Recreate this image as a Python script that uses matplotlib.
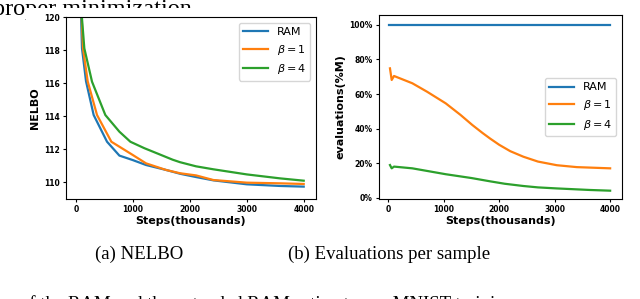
import matplotlib
matplotlib.use("Agg")
import matplotlib.pyplot as plt
from matplotlib.ticker import PercentFormatter
from matplotlib.patches import Rectangle

# ---- data ----
# (a) NELBO vs steps (thousands)
nelbo_ram_x = [70, 90, 105, 176, 310, 545, 762, 996, 1230, 1582, 1828, 2109, 2413, 3000, 3585, 4000]
nelbo_ram_y = [121.0, 119.9, 118.1, 116.1, 114.06, 112.44, 111.6, 111.33, 111.03, 110.73, 110.5, 110.3, 110.1, 109.86, 109.76, 109.72]

nelbo_b1_x = [80, 100, 123, 205, 369, 621, 762, 996, 1230, 1582, 1828, 2109, 2413, 3000, 3585, 4000]
nelbo_b1_y = [121.0, 119.9, 118.1, 116.1, 114.06, 112.44, 112.14, 111.64, 111.13, 110.73, 110.53, 110.4, 110.12, 109.96, 109.92, 109.88]

nelbo_b4_x = [90, 105, 146, 281, 515, 762, 955, 1200, 1450, 1699, 1828, 2109, 2413, 3000, 3585, 4000]
nelbo_b4_y = [121.0, 119.9, 118.1, 116.08, 114.06, 113.05, 112.44, 112.05, 111.7, 111.35, 111.2, 110.95, 110.77, 110.46, 110.22, 110.08]

# (b) evaluations per sample (fraction of M)
eval_ram_x = [10, 4000]
eval_ram_y = [1.0, 1.0]

eval_b1_x = [30, 61, 103, 433, 700, 1036, 1300, 1516, 1700, 1836, 2000, 2200, 2437, 2700, 3040, 3400, 4002]
eval_b1_y = [0.748, 0.681, 0.704, 0.662, 0.613, 0.546, 0.48, 0.421, 0.375, 0.343, 0.307, 0.27, 0.238, 0.21, 0.189, 0.178, 0.171]

eval_b4_x = [30, 61, 103, 433, 1036, 1500, 1836, 2100, 2437, 2700, 3040, 3641, 4002]
eval_b4_y = [0.19, 0.171, 0.181, 0.171, 0.137, 0.115, 0.096, 0.082, 0.069, 0.061, 0.055, 0.046, 0.042]

labels = ["RAM", r"$\beta=1$", r"$\beta=4$"]
colors = ["#1f77b4", "#ff7f0e", "#2ca02c"]

W, H = 640, 299
fig = plt.figure(figsize=(W / 100, H / 100), dpi=100)

SERIF = ["Liberation Serif", "DejaVu Serif"]

# clipped text of the surrounding page, partly hidden behind the chart image
fig.text(-7 / W, 1 - 15 / H, "proper minimization", family=SERIF, fontsize=17.5,
         ha="left", va="baseline", zorder=0)
cover = Rectangle((26 / W, 0), 1, 1 - 8 / H, transform=fig.transFigure,
                  facecolor="white", edgecolor="none", zorder=0.5)
fig.add_artist(cover)


def style(ax, xlabel, ylabel):
    ax.set_zorder(2)
    ax.set_xlabel(xlabel, fontsize=8, fontweight="bold", labelpad=1)
    ax.set_ylabel(ylabel, fontsize=8, fontweight="bold", labelpad=3)
    ax.set_xticks([0, 1000, 2000, 3000, 4000])
    ax.tick_params(labelsize=5.5, length=2.5, pad=2)
    for lab in ax.get_xticklabels() + ax.get_yticklabels():
        lab.set_fontweight("bold")


ax1 = fig.add_axes([66 / W, 1 - 199 / H, 250 / W, 182 / H])
ax1.plot(nelbo_ram_x, nelbo_ram_y, color=colors[0], lw=1.6, label=labels[0])
ax1.plot(nelbo_b1_x, nelbo_b1_y, color=colors[1], lw=1.6, label=labels[1])
ax1.plot(nelbo_b4_x, nelbo_b4_y, color=colors[2], lw=1.6, label=labels[2])
ax1.set_xlim(-176, 4216)
ax1.set_ylim(108.97, 120)
ax1.set_yticks([110, 112, 114, 116, 118, 120])
style(ax1, "Steps(thousands)", "NELBO")
ax1.legend(loc="upper right", fontsize=8, handlelength=2.2)

ax2 = fig.add_axes([379 / W, 1 - 199 / H, 243 / W, 184 / H])
ax2.plot(eval_ram_x, eval_ram_y, color=colors[0], lw=1.6, label=labels[0])
ax2.plot(eval_b1_x, eval_b1_y, color=colors[1], lw=1.6, label=labels[1])
ax2.plot(eval_b4_x, eval_b4_y, color=colors[2], lw=1.6, label=labels[2])
ax2.set_xlim(-168, 4216)
ax2.set_ylim(-0.006, 1.056)
ax2.set_yticks([0, 0.2, 0.4, 0.6, 0.8, 1.0])
ax2.yaxis.set_major_formatter(PercentFormatter(1.0, decimals=0))
style(ax2, "Steps(thousands)", "evaluations(%M)")
ax2.legend(loc="center right", fontsize=8, handlelength=2.2)

fig.text(139 / W, 1 - 254 / H, "(a) NELBO", family=SERIF, fontsize=13.5,
         ha="center", va="center", zorder=3)
fig.text(389 / W, 1 - 254 / H, "(b) Evaluations per sample", family=SERIF, fontsize=13.5,
         ha="center", va="center", zorder=3)
fig.text(20 / W, 1 - 309 / H, "of the RAM and the extended RAM estimator on MNIST training",
         family=SERIF, fontsize=13.5, ha="left", va="baseline", zorder=3)

fig.savefig("out.png", dpi=100)
